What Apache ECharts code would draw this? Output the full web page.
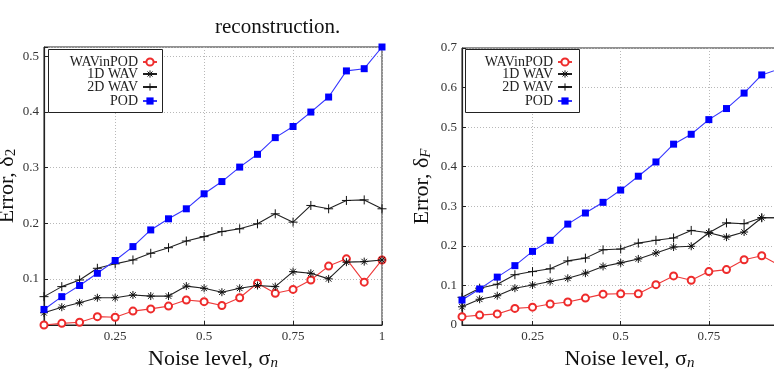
<!DOCTYPE html>
<html>
<head>
<meta charset="utf-8">
<script src="https://cdn.jsdelivr.net/npm/echarts@6/dist/echarts.min.js"></script>
<style>html,body{margin:0;padding:0;background:#fff}#c{width:774px;height:370px}</style>
</head>
<body>
<div id="c"></div>
<script>
const noise = [0.05,0.1,0.15,0.2,0.25,0.3,0.35,0.4,0.45,0.5,0.55,0.6,0.65,0.7,0.75,0.8,0.85,0.9,0.95,1.0];
const seriesNames = ['WAVinPOD','1D WAV','2D WAV','POD'];
// Left panel: Error, delta_2
const l2WAVinPOD = [0.017,0.020,0.022,0.032,0.031,0.042,0.046,0.051,0.062,0.059,0.052,0.066,0.092,0.074,0.081,0.098,0.123,0.136,0.094,0.134];
const l2WAV1D    = [0.039,0.049,0.057,0.066,0.066,0.071,0.069,0.069,0.087,0.083,0.076,0.083,0.088,0.086,0.113,0.110,0.100,0.130,0.131,0.134];
const l2WAV2D    = [0.068,0.086,0.098,0.119,0.127,0.134,0.146,0.156,0.168,0.176,0.185,0.190,0.199,0.217,0.202,0.232,0.226,0.241,0.242,0.226];
const l2POD      = [0.045,0.068,0.088,0.110,0.133,0.158,0.188,0.208,0.226,0.253,0.275,0.301,0.324,0.354,0.374,0.400,0.427,0.474,0.478,0.517];
// Right panel: Error, delta_F
const fWAVinPOD = [0.021,0.025,0.028,0.042,0.045,0.053,0.058,0.068,0.078,0.079,0.079,0.102,0.124,0.113,0.135,0.140,0.165,0.175,0.151,0.140];
const fWAV1D    = [0.046,0.065,0.074,0.093,0.101,0.110,0.118,0.131,0.148,0.157,0.167,0.182,0.197,0.199,0.233,0.222,0.235,0.271,0.271,0.270];
const fWAV2D    = [0.070,0.093,0.103,0.127,0.135,0.142,0.162,0.169,0.190,0.192,0.207,0.214,0.220,0.239,0.233,0.258,0.256,0.271,0.271,0.270];
const fPOD      = [0.063,0.091,0.121,0.150,0.186,0.214,0.255,0.283,0.310,0.341,0.376,0.412,0.457,0.482,0.519,0.547,0.586,0.632,0.647,0.685];

const caption = 'reconstruction.';
const xName = '{a|Noise level, σ}{s|n}';
const yNameL = '{a|Error, δ}{s|2}';
const yNameR = '{a|Error, δ}{s|F}';

const SERIF = '"Liberation Serif","DejaVu Serif",serif';
const ASTER = 'path://M5,0L5,10M0,5L10,5M1.5,1.5L8.5,8.5M8.5,1.5L1.5,8.5';
const PLUS = 'path://M5,0L5,10M0,5L10,5';

const styles = [
  {symbol:'emptyCircle', symbolSize:7, color:'#ee2b2b', border:'#ee2b2b', line:'#ee3a3a', bw:1, legendItem:null},
  {symbol:ASTER, symbolSize:8, color:'rgba(0,0,0,0)', border:'#111', line:'#222', bw:1,
   legendItem:{color:'rgba(0,0,0,0)', borderColor:'#111', borderWidth:1}},
  {symbol:PLUS, symbolSize:9, color:'rgba(0,0,0,0)', border:'#111', line:'#222', bw:1,
   legendItem:{color:'rgba(0,0,0,0)', borderColor:'#111', borderWidth:1}},
  {symbol:'rect', symbolSize:7, color:'#0000ff', border:'#0000ff', line:'#3535ff', bw:0, legendItem:null}
];

const nameRich = {
  a:{fontFamily:SERIF, fontSize:22, color:'#111'},
  s:{fontFamily:SERIF, fontSize:15, color:'#111', fontStyle:'italic', padding:[9,0,0,0]}
};
const nameRichL = {
  a:{fontFamily:SERIF, fontSize:22, color:'#111'},
  s:{fontFamily:SERIF, fontSize:15, color:'#111', padding:[9,0,0,0]}
};

const grids = [
  {left:44, top:47, width:338, height:278, show:true, borderColor:'#222', borderWidth:1, containLabel:false, outerBoundsMode:'none'},
  {left:462, top:48, width:335, height:277, show:true, borderColor:'#222', borderWidth:1, containLabel:false, outerBoundsMode:'none'}
];

const splitStyle = {show:true, lineStyle:{color:'#b8b8b8', type:[1,2], width:1}};
const tickLbl = {fontFamily:SERIF, fontSize:13, color:'#333', margin:5};

function xAxisFor(gi){
  return {
    type:'value', gridIndex:gi, min:0.05, max:1, minInterval:0.25, maxInterval:0.25,
    name:xName, nameLocation:'middle', nameGap:15,
    nameTextStyle:{rich:nameRich},
    axisLine:{show:true, onZero:false, lineStyle:{color:'#222', width:1.2}},
    axisTick:{show:true, inside:true, length:4, lineStyle:{color:'#222'}},
    axisLabel:Object.assign({showMinLabel:false, formatter:v=>String(+v.toFixed(2))}, tickLbl),
    splitLine:splitStyle
  };
}
function yAxisFor(gi, min, max, name, gap, rich){
  return {
    type:'value', gridIndex:gi, min:min, max:max, minInterval:0.1, maxInterval:0.1,
    name:name, nameLocation:'middle', nameGap:gap,
    nameTextStyle:{rich:rich},
    axisLine:{show:true, onZero:false, lineStyle:{color:'#222', width:1.2}},
    axisTick:{show:true, inside:true, length:4, lineStyle:{color:'#222'}},
    axisLabel:Object.assign({
      formatter:function(v){ const r = Math.round(v*10)/10; return Math.abs(r-v) < 1e-6 ? String(r) : ''; }
    }, tickLbl),
    splitLine:splitStyle
  };
}

const panels = [
  {grid:0, data:[l2WAVinPOD,l2WAV1D,l2WAV2D,l2POD]},
  {grid:1, data:[fWAVinPOD,fWAV1D,fWAV2D,fPOD]}
];

const series = [];
panels.forEach(function(p){
  p.data.forEach(function(vals, i){
    const s = styles[i];
    series.push({
      type:'line', name:seriesNames[i], xAxisIndex:p.grid, yAxisIndex:p.grid,
      data:noise.map((x,k)=>[x, vals[k]]),
      symbol:s.symbol, symbolSize:s.symbolSize, showSymbol:true,
      lineStyle:{color:s.line, width:1.1},
      itemStyle:{color:s.color, borderColor:s.border, borderWidth:s.bw},
      z: 2 + i
    });
  });
});

// legends: one component per entry so text is right-aligned against its icon
const legendRows = [55, 67, 80, 94];
const legendRights = [616, 201];
const legends = [];
legendRights.forEach(function(r){
  seriesNames.forEach(function(n, i){
    const lg = {
      data:[n], orient:'vertical', align:'right', right:r, top:legendRows[i],
      padding:0, itemWidth:14, itemHeight:9, itemGap:0,
      textStyle:{fontFamily:SERIF, fontSize:14, color:'#222', padding:[0,0,0,0]},
      selectedMode:false, z:10
    };
    if (styles[i].legendItem) lg.itemStyle = styles[i].legendItem;
    legends.push(lg);
  });
});

const option = {
  animation:false,
  backgroundColor:'#fff',
  grid:grids,
  xAxis:[xAxisFor(0), xAxisFor(1)],
  yAxis:[yAxisFor(0, 0.017, 0.517, yNameL, 23, nameRichL), yAxisFor(1, 0, 0.7, yNameR, 28, nameRich)],
  legend:legends,
  graphic:[
    {type:'text', left:215, top:17, style:{text:caption, font:'21px ' + SERIF, fill:'#111'}, z:10},
    {type:'rect', left:48, top:49, shape:{width:114, height:63}, style:{fill:'#fff', stroke:'#222', lineWidth:1}, z:9},
    {type:'rect', left:465, top:49, shape:{width:114, height:63}, style:{fill:'#fff', stroke:'#222', lineWidth:1}, z:9}
  ],
  series:series
};
const chart = echarts.init(document.getElementById('c'), null, {renderer:'canvas'});
chart.setOption(option);
</script>
</body>
</html>
